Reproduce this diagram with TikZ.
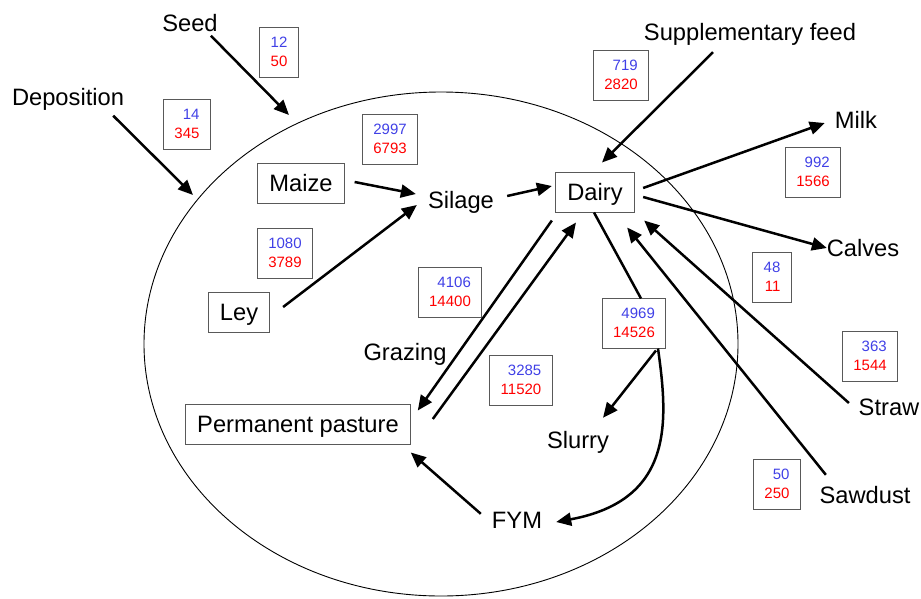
\documentclass[tikz,border=0pt]{standalone}
\usepackage{xcolor}
\usepackage{fontspec}
\setmainfont{Liberation Sans}
\usetikzlibrary{arrows.meta}
\definecolor{numblue}{RGB}{64,64,230}
\newcommand{\flow}[2]{\textcolor{numblue}{#1}\\\textcolor{red}{#2}}

\begin{document}
\begin{tikzpicture}[
    x=1pt, y=-1pt,
    lbl/.style={inner sep=3pt, font=\fontsize{23.7}{28}\selectfont, text height=17pt, text depth=0pt},
    box/.style={rectangle, draw=black!65, line width=1pt, inner xsep=11.5pt, inner ysep=0pt, minimum height=40pt, font=\fontsize{23.7}{28}\selectfont, text height=17pt, text depth=0pt},
    num/.style={rectangle, draw=black!65, line width=1pt, inner xsep=11pt, inner ysep=0pt, minimum height=50pt, font=\fontsize{15}{19}\selectfont, align=right},
    arrow/.style={-{Triangle[length=15pt,width=13pt]}, line width=2.5pt},
    link/.style={line width=2.5pt}
]
    \useasboundingbox (0,0) rectangle (921,598);

    % Farm boundary
    \draw[line width=0.9pt] (441,344) ellipse [x radius=297pt, y radius=252pt];

    % Inputs and outputs
    \node[lbl] (seed) at (190,23) {Seed};
    \node[lbl] (depo) at (68,97) {Deposition};
    \node[lbl] (supp) at (750,32) {Supplementary feed};
    \node[lbl] (milk) at (856,120) {Milk};
    \node[lbl] (calves) at (863,248) {Calves};
    \node[lbl] (straw) at (889,407) {Straw};
    \node[lbl] (sawdust) at (865,495) {Sawdust};
    \coordinate (seedin) at (289,115);
    \coordinate (depoin) at (193,195);

    % Farm components
    \node[box] (maize) at (301,183) {Maize};
    \node[box] (ley) at (239,312) {Ley};
    \node[box] (pasture) at (298,424) {Permanent pasture};
    \node[box] (dairy) at (595,192) {Dairy};
    \node[lbl] (silage) at (461,200) {Silage};
    \node[lbl] (grazing) at (405,352) {Grazing};
    \node[lbl] (slurry) at (578,440) {Slurry};
    \node[lbl] (fym) at (517,520) {FYM};

    % Flow values
    \node[num] (n12) at (279,52) {\flow{12}{50}};
    \node[num] (n14) at (187,124) {\flow{14}{345}};
    \node[num] (n2997) at (390,139) {\flow{2997}{6793}};
    \node[num] (n719) at (621,75) {\flow{719}{2820}};
    \node[num] (n992) at (813,172) {\flow{992}{1566}};
    \node[num] (n48) at (772,277) {\flow{48}{11}};
    \node[num] (n1080) at (285,253) {\flow{1080}{3789}};
    \node[num] (n4106) at (450,292) {\flow{4106}{14400}};
    \node[num] (n3285) at (521,380) {\flow{3285}{11520}};
    \node[num] (n4969) at (634,323) {\flow{4969}{14526}};
    \node[num] (n363) at (870,356) {\flow{363}{1544}};
    \node[num] (n50) at (777,484) {\flow{50}{250}};

    % Arrows - inputs
    \draw[arrow] ([shift={(-10,1)}]seed.south east) -- (seedin);
    \draw[arrow] ([shift={(-14,7)}]depo.south east) -- (depoin);
    \draw[arrow] ([shift={(-37,8.5)}]supp.south) -- ([shift={(7,-9)}]dairy.north);
    \draw[arrow] ([shift={(-6.6,-4)}]straw.west) -- ([shift={(9.5,8)}]dairy.south east);
    \draw[arrow] ([shift={(9.5,-8.5)}]sawdust.north west) -- ([shift={(-7.5,15)}]dairy.south east);

    % Arrows - outputs
    \draw[arrow] ([shift={(8.5,-4)}]dairy.east) -- ([shift={(-7,3)}]milk.west);
    \draw[arrow] ([shift={(8.5,5)}]dairy.east) -- ([shift={(3.3,0)}]calves.west);

    % Arrows - internal flows
    \draw[arrow] ([shift={(10,-1)}]maize.east) -- ([shift={(-9,-6)}]silage.west);
    \draw[arrow] ([shift={(13,-5)}]ley.east) -- ([shift={(-8,5)}]silage.west);
    \draw[arrow] ([shift={(10,-4)}]silage.east) -- ([shift={(-3.5,-6)}]dairy.west);
    \draw[arrow] ([shift={(-3.5,8)}]dairy.south west) -- ([shift={(7,7)}]pasture.north east);
    \draw[arrow] ([shift={(22,-5)}]pasture.east) -- ([shift={(-19,10)}]dairy.south);
    \draw[link] ([shift={(-1,0)}]dairy.south) -- ([shift={(7,1)}]n4969.north);
    \draw[arrow] ([shift={(22,2)}]n4969.south) -- ([shift={(25,-10.5)}]slurry.north);
    \draw[arrow] ([shift={(24,0)}]n4969.south) .. controls (668,420) and (675,500) .. ([shift={(11,2)}]fym.east);
    \draw[arrow] ([shift={(-8,5.5)}]fym.north west) -- ([shift={(0,8)}]pasture.south east);
\end{tikzpicture}
\end{document}
